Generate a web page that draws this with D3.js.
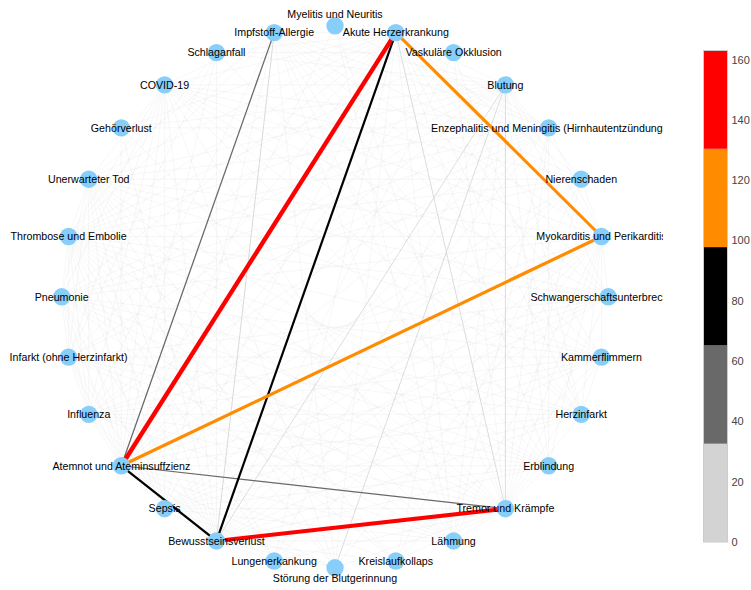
<!DOCTYPE html>
<html><head><meta charset="utf-8">
<script src="https://cdn.jsdelivr.net/npm/d3@7"></script>
<style>html,body{margin:0;padding:0;background:#fff;}svg{display:block;}</style>
</head><body><svg id="chart" width="751" height="590"></svg>
<script>
// Node names in circular order (clockwise from top)
const nodeNames = [
  "Myelitis und Neuritis","Akute Herzerkrankung","Vaskuläre Okklusion","Blutung",
  "Enzephalitis und Meningitis (Hirnhautentzündung)","Nierenschaden","Myokarditis und Perikarditis",
  "Schwangerschaftsunterbrechung","Kammerflimmern","Herzinfarkt","Erblindung","Tremor und Krämpfe",
  "Lähmung","Kreislaufkollaps","Störung der Blutgerinnung","Lungenerkankung","Bewusstseinsverlust",
  "Sepsis","Atemnot und Ateminsuffzienz","Influenza","Infarkt (ohne Herzinfarkt)","Pneumonie",
  "Thrombose und Embolie","Unerwarteter Tod","Gehörverlust","COVID-19","Schlaganfall","Impfstoff-Allergie"
];
const labelAbove = ["Myelitis und Neuritis"];
const labelBelow = ["Störung der Blutgerinnung"];

// Strong edges [source index, target index, weight]
const strongEdges = [
  [1,18,158],[16,11,146],[1,6,113],[18,6,116],[1,16,79],[18,16,81],
  [27,18,46],[18,11,43],
  [27,16,30],[1,11,29],[3,14,28],[3,11,28],[3,16,27]
];
// Weak edges [source index, target index, weight]
const weakEdges = [
  [18,0,4],[18,2,3],[18,3,9],[18,4,3],[18,5,5],[18,7,3],[18,8,8],[18,9,10],[18,10,4],[18,12,7],[18,13,9],[18,14,6],[18,15,11],[18,17,12],[18,19,8],[18,20,7],[18,21,12],[18,22,10],[18,23,9],[18,24,3],[18,25,6],[18,26,4],
  [16,2,3],[16,4,7],[16,5,4],[16,6,9],[16,7,3],[16,8,8],[16,9,6],[16,10,5],[16,12,10],[16,13,9],[16,14,6],[16,15,7],[16,17,8],[16,19,4],[16,20,6],[16,21,5],[16,22,7],[16,23,8],[16,24,4],[16,25,5],[16,26,6],
  [11,0,4],[11,2,3],[11,4,8],[11,5,5],[11,6,10],[11,7,4],[11,8,6],[11,9,5],[11,10,8],[11,12,12],[11,13,7],[11,14,5],[11,15,4],[11,17,6],[11,19,5],[11,20,6],[11,21,4],[11,22,7],[11,23,8],[11,24,6],[11,27,9],
  [1,3,8],[1,4,5],[1,5,4],[1,7,3],[1,8,9],[1,9,10],[1,10,3],[1,12,4],[1,14,5],[1,15,4],[1,17,5],[1,19,4],[1,20,6],[1,21,7],[1,22,8],[1,23,11],[1,24,3],[1,25,6],[1,26,4],[1,27,7],
  [6,3,5],[6,4,6],[6,5,4],[6,7,3],[6,8,9],[6,9,7],[6,10,3],[6,12,4],[6,14,5],[6,15,4],[6,17,3],[6,19,5],[6,21,6],[6,22,7],[6,23,8],[6,25,5],[6,27,6],
  [22,2,7],[22,3,6],[22,4,4],[22,5,3],[22,7,4],[22,8,3],[22,9,6],[22,10,4],[22,12,5],[22,13,4],[22,14,8],[22,15,6],[22,17,4],[22,19,3],[22,20,7],[22,21,6],[22,23,5],[22,25,4],[22,26,8],[22,27,4],
  [21,3,3],[21,4,4],[21,5,3],[21,8,3],[21,9,3],[21,10,2],[21,12,3],[21,13,4],[21,17,7],[21,19,8],[21,20,3],[21,23,4],[21,25,6],
  [20,3,4],[20,4,3],[20,7,2],[20,8,3],[20,9,5],[20,10,3],[20,12,4],[20,17,3],[20,19,3],[20,23,4],[20,25,3],[20,26,5],
  [23,3,4],[23,4,3],[23,5,3],[23,7,2],[23,8,6],[23,10,2],[23,12,3],[23,13,5],[23,14,3],[23,15,3],[23,17,4],[23,19,3],[23,25,5],[23,27,3],
  [25,3,3],[25,4,3],[25,5,2],[25,7,2],[25,8,3],[25,9,3],[25,10,2],[25,12,3],[25,14,3],[25,17,4],[25,19,5],[25,27,4],
  [27,3,3],[27,4,3],[27,5,2],[27,7,2],[27,8,3],[27,9,3],[27,10,2],[27,12,3],[27,14,2],[27,17,4],[27,19,3],
  [19,3,2],[19,4,3],[19,7,2],[19,8,2],[19,9,3],[19,10,2],[19,12,2],[19,17,5],
  [17,4,3],[17,5,4],[17,7,2],[17,8,3],[17,9,3],[17,10,2],[17,12,3],[17,14,4],
  [3,5,3],[3,7,3],[3,9,3],[3,10,3],[3,12,3],[3,13,3],[3,15,3],[3,24,2],[3,26,4],
  [24,4,3],[4,12,4],[4,10,3],[8,9,4],[8,13,3],[0,12,3],[0,4,3],[26,9,3],[2,26,3],[2,9,3],[5,13,2]
];
// Colour bar
const cbarMax = 163;
const cbarColors = ["lightgray","dimgray","black","darkorange","red"];
const cbarTicks = [0,20,40,60,80,100,120,140,160];

const svg = d3.select("#chart");
const W = 751, H = 590;

// Circular layout scales
const xScale = d3.scaleLinear().domain([-1,1]).range([335-273.3, 335+273.3]);
const yScale = d3.scaleLinear().domain([-1,1]).range([296.8+271, 296.8-271]);
const n = nodeNames.length;
const nodes = nodeNames.map((name,i)=>{
  const a = Math.PI/2 - i*2*Math.PI/n;
  return {name, x:xScale(Math.cos(a)), y:yScale(Math.sin(a))};
});

const colorScale = d3.scaleQuantize().domain([0,cbarMax]).range(cbarColors);
const widthScale = d3.scaleLinear().domain([0,36]).range([0,1]);

const allEdges = weakEdges.concat(strongEdges).map(e=>({s:nodes[e[0]], t:nodes[e[1]], w:e[2]}))
  .sort((a,b)=>a.w-b.w);

svg.append("defs").append("clipPath").attr("id","plotclip")
  .append("rect").attr("x",0).attr("y",0).attr("width",663).attr("height",H);

const plot = svg.append("g").attr("clip-path","url(#plotclip)");

plot.append("g").selectAll("line").data(allEdges).join("line")
  .attr("x1",d=>d.s.x).attr("y1",d=>d.s.y).attr("x2",d=>d.t.x).attr("y2",d=>d.t.y)
  .attr("stroke",d=>colorScale(d.w))
  .attr("stroke-opacity",d=>d.w<15?0.25:1)
  .attr("stroke-width",d=>Math.max(0.7, widthScale(d.w)));

plot.append("g").selectAll("circle").data(nodes).join("circle")
  .attr("cx",d=>d.x).attr("cy",d=>d.y).attr("r",8.7).attr("fill","#87CEFA");

plot.append("g").selectAll("text").data(nodes).join("text")
  .attr("x",d=>d.x)
  .attr("y",d=>labelAbove.includes(d.name)? d.y-11.5 : labelBelow.includes(d.name)? d.y+10.5 : d.y)
  .attr("dy","0.35em")
  .attr("text-anchor","middle")
  .attr("font-family","'Liberation Sans', Arial, sans-serif")
  .attr("font-size","10.67px")
  .attr("fill","#000")
  .text(d=>d.name);

// Colour bar
const cbY = d3.scaleLinear().domain([0,cbarMax]).range([542,50.5]);
const cbX = 703.5, cbW = 24;
const bandW = cbarMax/cbarColors.length;
const cb = svg.append("g");
cb.selectAll("rect.band").data(cbarColors).join("rect").attr("class","band")
  .attr("x",cbX).attr("width",cbW)
  .attr("y",(d,i)=>cbY((i+1)*bandW)).attr("height",(d,i)=>cbY(i*bandW)-cbY((i+1)*bandW))
  .attr("fill",d=>d);
cb.append("rect").attr("x",cbX).attr("y",cbY(cbarMax)).attr("width",cbW)
  .attr("height",cbY(0)-cbY(cbarMax)).attr("fill","none").attr("stroke","#ccc").attr("stroke-width",1);
const axis = d3.axisRight(cbY).tickValues(cbarTicks).tickSize(0).tickPadding(4);
const ag = cb.append("g").attr("transform",`translate(${cbX+cbW},0)`).call(axis);
ag.select(".domain").remove();
ag.selectAll("text").attr("font-family","'Liberation Sans', Arial, sans-serif").attr("font-size","11px").attr("fill","#444");
</script></body></html>
